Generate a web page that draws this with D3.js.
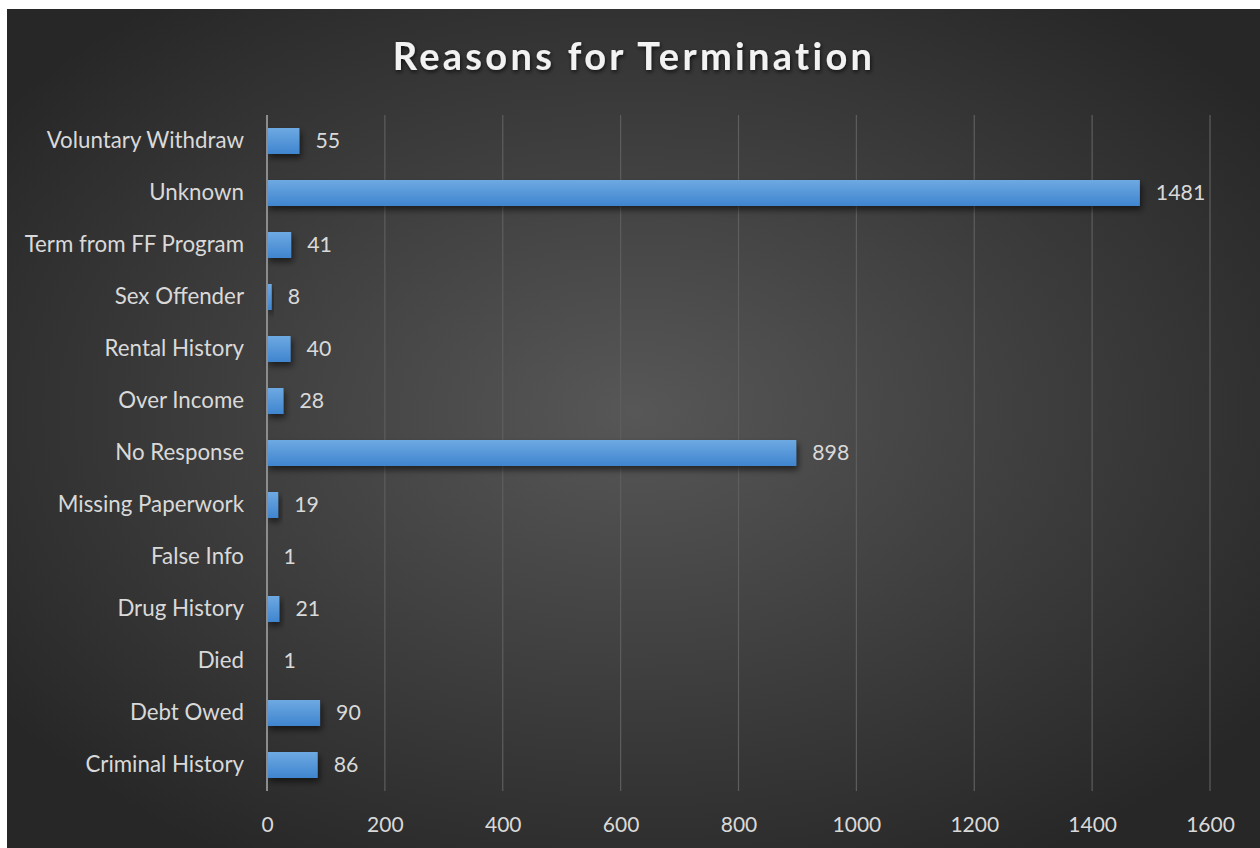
<!DOCTYPE html>
<html>
<head>
<meta charset="utf-8">
<script src="https://cdn.jsdelivr.net/npm/d3@7"></script>
<style>
  html, body { margin: 0; padding: 0; background: #ffffff; }
  svg { display: block; }
</style>
</head>
<body>
<svg id="chart" width="1260" height="848"></svg>
<script>
// Termination reasons, listed bottom to top as they appear on the chart
const categories = [
  "Criminal History", "Debt Owed", "Died", "Drug History", "False Info",
  "Missing Paperwork", "No Response", "Over Income", "Rental History",
  "Sex Offender", "Term from FF Program", "Unknown", "Voluntary Withdraw"
];
const counts = [86, 90, 1, 21, 1, 19, 898, 28, 40, 8, 41, 1481, 55];
const xTicks = [0, 200, 400, 600, 800, 1000, 1200, 1400, 1600];
const chartTitle = "Reasons for Termination";

const svg = d3.select("#chart");
const W = 1260, H = 848;
const font = "Lato, 'Open Sans', sans-serif";

const defs = svg.append("defs");

// Dark radial backdrop
const bg = defs.append("radialGradient").attr("id", "bgGrad")
  .attr("cx", "50%").attr("cy", "48%").attr("r", "62%");
bg.append("stop").attr("offset", "0%").attr("stop-color", "#575757");
bg.append("stop").attr("offset", "100%").attr("stop-color", "#272727");

// Bar fill: lighter top, deeper bottom
const barGrad = defs.append("linearGradient").attr("id", "barGrad")
  .attr("x1", 0).attr("y1", 0).attr("x2", 0).attr("y2", 1);
barGrad.append("stop").attr("offset", "0%").attr("stop-color", "#6ea9e2");
barGrad.append("stop").attr("offset", "100%").attr("stop-color", "#3f85cf");

const shadow = defs.append("filter").attr("id", "barShadow")
  .attr("x", "-20%").attr("y", "-30%").attr("width", "160%").attr("height", "200%");
shadow.append("feDropShadow").attr("dx", 2).attr("dy", 4).attr("stdDeviation", 3)
  .attr("flood-color", "#000").attr("flood-opacity", 0.55);

const titleShadow = defs.append("filter").attr("id", "titleShadow")
  .attr("x", "-10%").attr("y", "-30%").attr("width", "120%").attr("height", "170%");
titleShadow.append("feDropShadow").attr("dx", 1).attr("dy", 2).attr("stdDeviation", 2)
  .attr("flood-color", "#000").attr("flood-opacity", 0.7);

svg.append("rect").attr("x", 7).attr("y", 9).attr("width", W - 7).attr("height", H - 9)
  .attr("fill", "url(#bgGrad)");

// Plot area
const plot = { left: 267, right: 1210, top: 115, bottom: 791 };

const x = d3.scaleLinear().domain([0, 1600]).range([plot.left, plot.right]);
const y = d3.scaleBand().domain(categories.slice().reverse())
  .range([plot.top, plot.bottom]).paddingInner(0.5).paddingOuter(0.25);

// Vertical gridlines
svg.append("g").selectAll("line").data(xTicks.filter(t => t > 0)).join("line")
  .attr("x1", d => x(d)).attr("x2", d => x(d))
  .attr("y1", plot.top).attr("y2", plot.bottom)
  .attr("stroke", "#5e5e5e").attr("stroke-width", 1.2);

// X axis tick labels
const xAxis = d3.axisBottom(x).tickValues(xTicks).tickFormat(d3.format("d"))
  .tickSize(0).tickPadding(0);
const gx = svg.append("g").attr("transform", `translate(0, ${plot.bottom + 8})`).call(xAxis);
gx.select(".domain").remove();
gx.selectAll("text").attr("font-family", font).attr("font-size", 21)
  .attr("fill", "#d9d9d9").attr("dy", "0.71em").attr("y", 18);

// Y axis category labels
const yAxis = d3.axisLeft(y).tickSize(0).tickPadding(23);
const gy = svg.append("g").attr("transform", `translate(${plot.left}, 0)`).call(yAxis);
gy.select(".domain").remove();
gy.selectAll("text").attr("font-family", font).attr("font-size", 22.3)
  .attr("fill", "#d9d9d9");

// Bars
svg.append("g").selectAll("rect").data(categories).join("rect")
  .attr("x", x(0))
  .attr("y", d => y(d))
  .attr("width", (d, i) => Math.max(0.8, x(counts[i]) - x(0)))
  .attr("height", y.bandwidth())
  .attr("fill", "url(#barGrad)")
  .attr("filter", "url(#barShadow)");

// Category axis line
svg.append("line").attr("x1", plot.left).attr("x2", plot.left)
  .attr("y1", plot.top).attr("y2", plot.bottom)
  .attr("stroke", "#8c8c8c").attr("stroke-width", 2);

// Value labels
svg.append("g").selectAll("text").data(categories).join("text")
  .attr("x", (d, i) => x(counts[i]) + 16)
  .attr("y", d => y(d) + y.bandwidth() / 2)
  .attr("dy", "0.35em")
  .attr("font-family", font).attr("font-size", 21.3)
  .attr("fill", "#d9d9d9")
  .text((d, i) => counts[i]);

// Title
svg.append("text").attr("x", 634).attr("y", 57).attr("dy", "0.35em")
  .attr("text-anchor", "middle")
  .attr("font-family", font).attr("font-weight", "bold").attr("font-size", 38)
  .attr("letter-spacing", 3.3)
  .attr("fill", "#f2f2f2")
  .attr("filter", "url(#titleShadow)")
  .text(chartTitle);
</script>
</body>
</html>
